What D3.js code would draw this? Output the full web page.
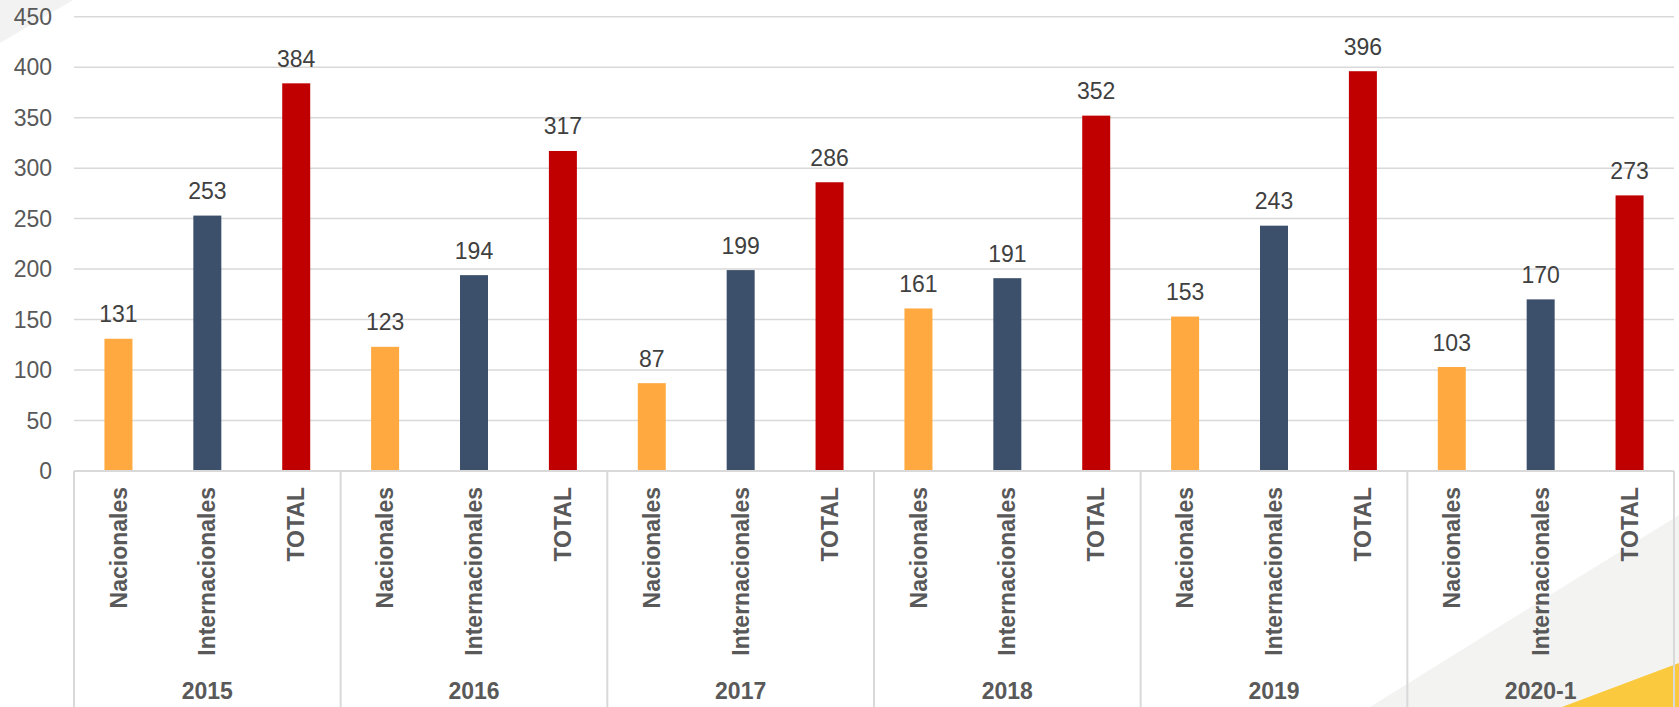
<!DOCTYPE html>
<html lang="es">
<head>
<meta charset="UTF-8">
<title>Nacionales / Internacionales</title>
<script src="https://d3js.org/d3.v7.min.js"></script>
<style>
    body { margin: 0; background: #fff; overflow: hidden; }
    svg { display: block; font-family: "Liberation Sans", Arial, sans-serif; }
</style>
</head>
<body>
<svg id="chart" width="1679" height="707"></svg>
<script>
    // data
    const years = ['2015', '2016', '2017', '2018', '2019', '2020-1'];
    const series = ['Nacionales', 'Internacionales', 'TOTAL'];
    const nacionales = [131, 123, 87, 161, 153, 103];
    const internacionales = [253, 194, 199, 191, 243, 170];
    const total = [384, 317, 286, 352, 396, 273];
    const yTicks = [0, 50, 100, 150, 200, 250, 300, 350, 400, 450];
    const colors = ['#FFA940', '#3D506B', '#C00000'];

    const values = [nacionales, internacionales, total];

    const W = 1679, H = 707;
    const plotLeft = 74, plotRight = 1674, plotTop = 16.7, base = 471;

    const svg = d3.select('#chart');

    // background decorations
    svg.append('polygon').attr('points', `0,0 73,0 0,43`).attr('fill', '#f2f2f2');
    svg.append('polygon').attr('points', `1370,${H} ${W},515 ${W},${H}`).attr('fill', '#f3f3f2');
    svg.append('polygon').attr('points', `1562,${H} ${W},663 ${W},${H}`).attr('fill', '#FBC93D');

    const x0 = d3.scaleBand().domain(years).range([plotLeft, plotRight]);
    const x1 = d3.scaleBand().domain(series).range([0, x0.bandwidth()]);
    const y = d3.scaleLinear().domain([0, 450]).range([base, plotTop]);
    const barW = 28;

    // gridlines
    svg.append('g').selectAll('line').data(yTicks.filter(d => d > 0)).join('line')
        .attr('x1', plotLeft).attr('x2', plotRight)
        .attr('y1', d => y(d)).attr('y2', d => y(d))
        .attr('stroke', '#d9d9d9').attr('stroke-width', 1.5);

    // y tick labels
    svg.append('g').selectAll('text').data(yTicks).join('text')
        .attr('x', 52).attr('y', d => y(d)).attr('dy', '0.35em')
        .attr('text-anchor', 'end')
        .attr('font-size', 23).attr('fill', '#595959')
        .text(d => d);

    // bars
    const groups = svg.append('g').selectAll('g').data(years).join('g')
        .attr('transform', d => `translate(${x0(d)},0)`);

    groups.each(function (yr, gi) {
        const g = d3.select(this);
        series.forEach((s, si) => {
            const v = values[si][gi];
            const cx = x1(s) + x1.bandwidth() / 2;
            g.append('rect')
                .attr('x', cx - barW / 2).attr('width', barW)
                .attr('y', y(v)).attr('height', base - y(v))
                .attr('fill', colors[si]);
            g.append('text')
                .attr('x', cx).attr('y', y(v) - 16.5)
                .attr('text-anchor', 'middle')
                .attr('font-size', 23).attr('fill', '#404040')
                .text(v);
            g.append('text')
                .attr('transform', `translate(${cx},487) rotate(-90)`)
                .attr('dy', '0.35em')
                .attr('text-anchor', 'end')
                .attr('font-size', 23).attr('font-weight', 'bold').attr('fill', '#595959')
                .text(s);
        });
        g.append('text')
            .attr('x', x0.bandwidth() / 2).attr('y', 699)
            .attr('text-anchor', 'middle')
            .attr('font-size', 23).attr('font-weight', 'bold').attr('fill', '#595959')
            .text(yr);
    });

    // axis line and category separators
    svg.append('line').attr('x1', plotLeft).attr('x2', plotRight).attr('y1', base).attr('y2', base)
        .attr('stroke', '#d9d9d9').attr('stroke-width', 2);
    svg.append('g').selectAll('line').data(years.map(d => x0(d)).concat([plotRight])).join('line')
        .attr('x1', d => d).attr('x2', d => d)
        .attr('y1', base).attr('y2', H)
        .attr('stroke', '#d9d9d9').attr('stroke-width', 2);
</script>
</body>
</html>
